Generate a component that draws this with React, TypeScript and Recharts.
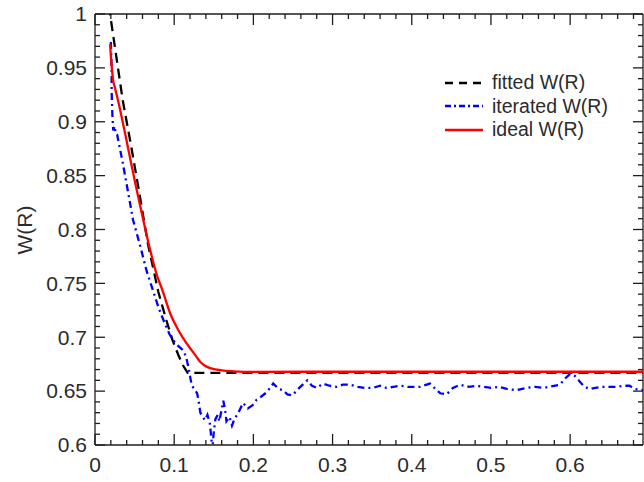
import React from "react";
import { LineChart, Line, XAxis, YAxis, Legend, ReferenceLine } from "recharts";

// fitted W(R), black dashed
const fittedR = [0.017, 0.019, 0.029, 0.035, 0.045, 0.055, 0.061, 0.067, 0.08, 0.09, 0.098, 0.105, 0.111, 0.117, 0.2, 0.3, 0.4, 0.5, 0.6, 0.692];
const fittedW = [1.008, 1.0, 0.95, 0.92, 0.88, 0.838, 0.812, 0.786, 0.742, 0.716, 0.697, 0.684, 0.674, 0.667, 0.667, 0.667, 0.667, 0.667, 0.667, 0.667];

// iterated W(R), blue dash-dot
const iterR = [
  0.02, 0.021, 0.021, 0.022, 0.023, 0.025, 0.026, 0.028, 0.035, 0.04, 0.048, 0.057, 0.065, 0.073, 0.08, 0.088,
  0.094, 0.099, 0.105, 0.111, 0.115, 0.118, 0.122, 0.125, 0.129, 0.131, 0.133, 0.136, 0.139, 0.142, 0.145, 0.147,
  0.148, 0.15, 0.152, 0.155, 0.157, 0.16, 0.162, 0.164, 0.166, 0.17, 0.173, 0.176, 0.181, 0.187, 0.193, 0.199,
  0.204, 0.21, 0.217, 0.225, 0.232, 0.237, 0.243, 0.249, 0.258, 0.268, 0.274, 0.28, 0.288, 0.296, 0.305, 0.313,
  0.322, 0.332, 0.341, 0.351, 0.36, 0.368, 0.377, 0.385, 0.395, 0.41, 0.423, 0.43, 0.436, 0.444, 0.452, 0.461,
  0.472, 0.482, 0.49, 0.5, 0.51, 0.52, 0.532, 0.545, 0.556, 0.566, 0.574, 0.587, 0.594, 0.6, 0.606, 0.612,
  0.618, 0.625, 0.632, 0.64, 0.65, 0.659, 0.668, 0.675, 0.682, 0.692,
];
const iterW = [
  0.974, 0.95, 0.929, 0.905, 0.892, 0.896, 0.889, 0.888, 0.862, 0.842, 0.809, 0.785, 0.762, 0.744, 0.728, 0.713,
  0.703, 0.697, 0.692, 0.688, 0.682, 0.672, 0.656, 0.652, 0.648, 0.64, 0.63, 0.626, 0.623, 0.628, 0.62, 0.606,
  0.595, 0.612, 0.624, 0.628, 0.622, 0.633, 0.641, 0.634, 0.622, 0.626, 0.618, 0.624, 0.63, 0.639, 0.634, 0.637,
  0.642, 0.645, 0.649, 0.657, 0.652, 0.651, 0.647, 0.646, 0.653, 0.66, 0.655, 0.653, 0.657, 0.655, 0.654, 0.656,
  0.656, 0.654, 0.653, 0.653, 0.655, 0.653, 0.654, 0.655, 0.654, 0.654, 0.657, 0.652, 0.648, 0.647, 0.653, 0.656,
  0.654, 0.655, 0.654, 0.653, 0.654, 0.652, 0.651, 0.653, 0.654, 0.653, 0.654, 0.656, 0.662, 0.666, 0.664, 0.659,
  0.654, 0.652, 0.653, 0.654, 0.654, 0.654, 0.655, 0.655, 0.652, 0.651,
];

// ideal W(R), red solid
const idealR = [0.019, 0.021, 0.023, 0.025, 0.029, 0.04, 0.05, 0.06, 0.069, 0.078, 0.085, 0.095, 0.105, 0.115, 0.122, 0.128, 0.133, 0.138, 0.143, 0.15, 0.16, 0.175, 0.2, 0.3, 0.4, 0.5, 0.6, 0.692];
const idealW = [0.972, 0.952, 0.938, 0.932, 0.92, 0.882, 0.846, 0.812, 0.783, 0.758, 0.744, 0.722, 0.707, 0.695, 0.688, 0.682, 0.677, 0.674, 0.672, 0.6705, 0.6693, 0.6684, 0.6678, 0.668, 0.668, 0.668, 0.668, 0.668];

const X_MAX = 0.692;
const xMajor = [0, 0.1, 0.2, 0.3, 0.4, 0.5, 0.6];
const yMajor = [0.6, 0.65, 0.7, 0.75, 0.8, 0.85, 0.9, 0.95, 1];
const xTicks = Array.from({ length: 35 }, (_, i) => Math.round(i * 2) / 100);
const yTicks = Array.from({ length: 41 }, (_, i) => Math.round(60 + i) / 100);

const toPoints = (xs: number[], ys: number[]) => xs.map((x, i) => ({ x, y: ys[i] }));
const fitted = toPoints(fittedR, fittedW);
const iterated = toPoints(iterR, iterW);
const ideal = toPoints(idealR, idealW);

const FONT = "'Liberation Sans', Arial, Helvetica, sans-serif";
const INK = "#1e1e1e";
const TEXT = "#2b2b2b";
const FRAME_W = 1.3;

const isMajor = (v: number, list: number[]) => list.some((m) => Math.abs(m - v) < 1e-6);

// axis labels + inward tick marks drawn by the axes themselves
const BottomTick = (props: any) => {
  const { x, y, payload } = props;
  const major = isMajor(payload.value, xMajor);
  return (
    <g>
      <path d={`M${x},${y}L${x},${y - (major ? 11 : 5)}`} stroke={INK} strokeWidth={FRAME_W} />
      {major && (
        <text x={x} y={y + 27} textAnchor="middle" fontSize={21} fontFamily={FONT} fill={TEXT}>
          {String(payload.value)}
        </text>
      )}
    </g>
  );
};

const LeftTick = (props: any) => {
  const { x, y, payload } = props;
  const major = isMajor(payload.value, yMajor);
  return (
    <g>
      <path d={`M${x},${y}L${x + (major ? 10 : 5)},${y}`} stroke={INK} strokeWidth={FRAME_W} />
      {major && (
        <text x={x - 8} y={y} dy="0.35em" textAnchor="end" fontSize={21} fontFamily={FONT} fill={TEXT}>
          {String(payload.value)}
        </text>
      )}
    </g>
  );
};

// tick marks on the top and right frame edges
const topTickShape = (major: boolean) => (p: any) => {
  const top = Math.min(p.y1, p.y2);
  return <path d={`M${p.x1},${top}L${p.x1},${top + (major ? 11 : 5)}`} stroke={INK} strokeWidth={FRAME_W} />;
};

const rightTickShape = (major: boolean) => (p: any) => {
  const right = Math.max(p.x1, p.x2);
  return <path d={`M${right},${p.y1}L${right - (major ? 10 : 5)},${p.y1}`} stroke={INK} strokeWidth={FRAME_W} />;
};

const legendItems = [
  { name: "fitted W(R)", color: "#000000", dash: "8 6" },
  { name: "iterated W(R)", color: "#0000ff", dash: "6 3 2 3" },
  { name: "ideal W(R)", color: "#ff0000", dash: undefined },
];

const renderLegend = () => (
  <div style={{ fontFamily: FONT, fontSize: 19.5, color: TEXT }}>
    {legendItems.map((item) => (
      <div key={item.name} style={{ display: "flex", alignItems: "center", height: 23.5 }}>
        <svg width={47} height={10}>
          <line x1={0} y1={5} x2={38} y2={5} stroke={item.color} strokeWidth={2.4} strokeDasharray={item.dash} />
        </svg>
        <span style={{ whiteSpace: "nowrap" }}>{item.name}</span>
      </div>
    ))}
  </div>
);

export default function App() {
  return (
    <div style={{ position: "absolute", left: 0, top: 0, width: 644, height: 482, overflow: "hidden" }}>
      <LineChart width={644} height={482} margin={{ top: 14, right: 1, bottom: 0, left: 0 }}>
        <XAxis
          dataKey="x"
          type="number"
          domain={[0, X_MAX]}
          allowDataOverflow
          ticks={xTicks}
          interval={0}
          tickSize={0}
          tickMargin={0}
          tickLine={false}
          tick={<BottomTick />}
          height={37}
          stroke={INK}
          strokeWidth={FRAME_W}
        />
        <YAxis
          type="number"
          domain={[0.6, 1]}
          allowDataOverflow
          ticks={yTicks}
          interval={0}
          tickSize={0}
          tickMargin={0}
          tickLine={false}
          tick={<LeftTick />}
          width={95}
          stroke={INK}
          strokeWidth={FRAME_W}
          label={() => (
            <text
              x={24}
              y={230}
              transform="rotate(-90 24 230)"
              textAnchor="middle"
              dominantBaseline="central"
              fontSize={21}
              fontFamily={FONT}
              fill={TEXT}
            >
              W(R)
            </text>
          )}
        />
        <ReferenceLine y={1} stroke={INK} strokeWidth={FRAME_W} />
        <ReferenceLine x={X_MAX} stroke={INK} strokeWidth={FRAME_W} />
        {xTicks.map((v) => (
          <ReferenceLine key={`xt-${v}`} x={v} shape={topTickShape(isMajor(v, xMajor))} />
        ))}
        {yTicks.map((v) => (
          <ReferenceLine key={`yt-${v}`} y={v} shape={rightTickShape(isMajor(v, yMajor))} />
        ))}
        <Legend
          layout="vertical"
          align="center"
          verticalAlign="middle"
          content={renderLegend}
          wrapperStyle={{ top: 71, left: 445, width: 195 }}
        />
        <Line data={fitted} dataKey="y" name="fitted W(R)" stroke="#000000" strokeWidth={2.3} strokeDasharray="10 6" dot={false} isAnimationActive={false} />
        <Line data={iterated} dataKey="y" name="iterated W(R)" stroke="#0000ff" strokeWidth={2.3} strokeDasharray="7 4 2 4" dot={false} isAnimationActive={false} />
        <Line data={ideal} dataKey="y" name="ideal W(R)" type="monotone" stroke="#ff0000" strokeWidth={2.3} dot={false} isAnimationActive={false} />
      </LineChart>
    </div>
  );
}
